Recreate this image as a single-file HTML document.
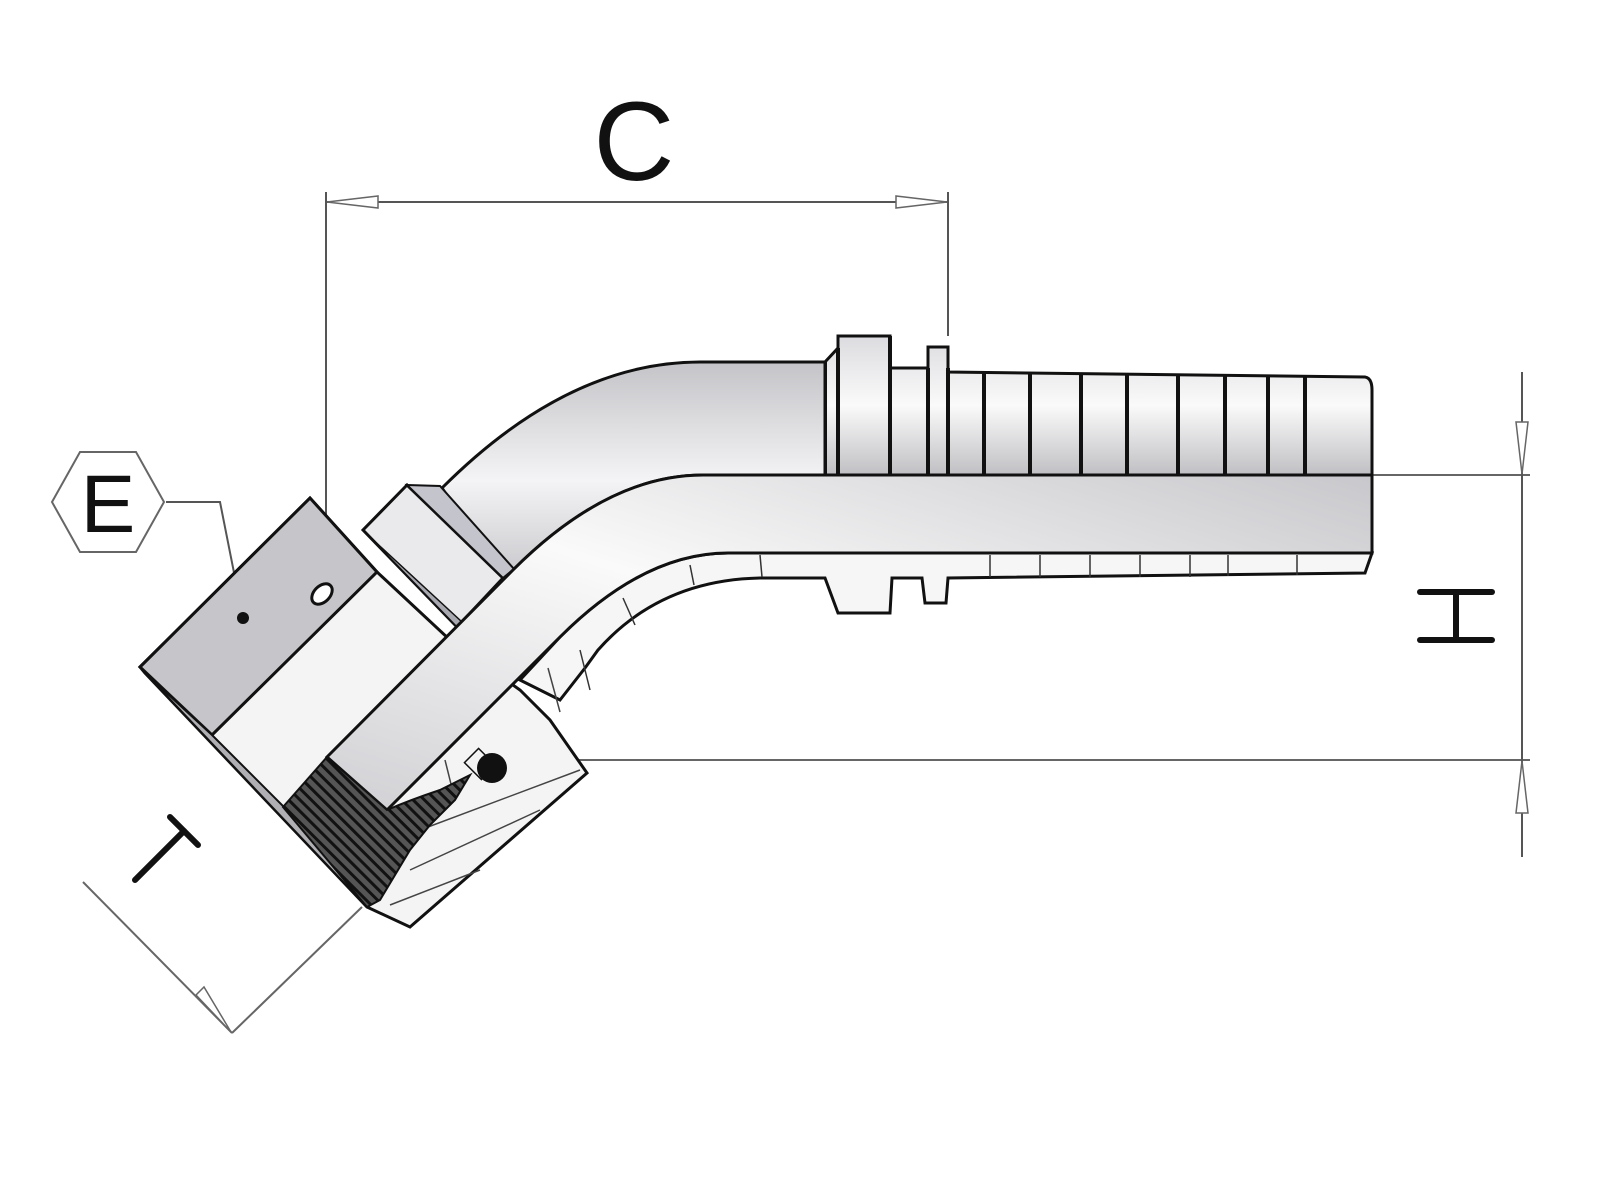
<!DOCTYPE html>
<html><head><meta charset="utf-8"><style>
html,body{margin:0;padding:0;background:#fff;}
svg{display:block}
text{font-family:"Liberation Sans",sans-serif;}
</style></head><body>
<svg width="1600" height="1200" viewBox="0 0 1600 1200" xmlns="http://www.w3.org/2000/svg">
<defs>
<linearGradient id="gv" x1="0" y1="0" x2="0" y2="1">
<stop offset="0" stop-color="#c4c4c8"/><stop offset="0.55" stop-color="#f4f4f6"/><stop offset="1" stop-color="#c8c8cc"/>
</linearGradient>
<linearGradient id="gt" x1="0" y1="0" x2="0" y2="1">
<stop offset="0" stop-color="#dcdce0"/><stop offset="0.5" stop-color="#fafafa"/><stop offset="1" stop-color="#c0c0c4"/>
</linearGradient>
<linearGradient id="gd" x1="0" y1="1" x2="1" y2="0">
<stop offset="0" stop-color="#d0d0d4"/><stop offset="0.5" stop-color="#fafafa"/><stop offset="1" stop-color="#c8c8cc"/>
</linearGradient>
<pattern id="th" width="8" height="8" patternUnits="userSpaceOnUse" patternTransform="rotate(45)">
<rect width="8" height="8" fill="#555"/><rect width="8" height="3" fill="#111"/>
</pattern>
</defs>

<!-- dimension C -->
<text x="634" y="180" font-size="112" text-anchor="middle" fill="#111">C</text>
<line x1="326" y1="202" x2="948" y2="202" stroke="#555" stroke-width="2"/>
<line x1="326" y1="192" x2="326" y2="760" stroke="#555" stroke-width="2"/>
<line x1="948" y1="192" x2="948" y2="336" stroke="#555" stroke-width="2"/>
<path d="M327,202 L378,196 L378,208 Z" fill="#fff" stroke="#666" stroke-width="1.5"/>
<path d="M947,202 L896,196 L896,208 Z" fill="#fff" stroke="#666" stroke-width="1.5"/>

<!-- H dimension -->
<line x1="1372" y1="475" x2="1530" y2="475" stroke="#666" stroke-width="2"/>
<line x1="326" y1="760" x2="1530" y2="760" stroke="#666" stroke-width="2"/>
<line x1="1522" y1="372" x2="1522" y2="857" stroke="#555" stroke-width="2"/>
<path d="M1522,474 L1516,422 L1528,422 Z" fill="#fff" stroke="#666" stroke-width="1.5"/>
<path d="M1522,761 L1516,813 L1528,813 Z" fill="#fff" stroke="#666" stroke-width="1.5"/>
<g stroke="#111" stroke-width="6" stroke-linecap="round">
<line x1="1420" y1="592" x2="1492" y2="592"/><line x1="1420" y1="640" x2="1492" y2="640"/><line x1="1456" y1="592" x2="1456" y2="640"/>
</g>

<!-- T dimension -->
<line x1="83" y1="882" x2="232" y2="1033" stroke="#666" stroke-width="2"/>
<line x1="232" y1="1033" x2="362" y2="907" stroke="#666" stroke-width="2"/>
<path d="M231,1032 L196,995 L204,987 Z" fill="#fff" stroke="#666" stroke-width="1.5"/>
<g stroke="#111" stroke-width="6" stroke-linecap="round">
<line x1="170" y1="817" x2="198" y2="845"/><line x1="184" y1="831" x2="135" y2="880"/>
</g>

<!-- E hexagon -->
<polygon points="52,502 80,452 136,452 164,502 136,552 80,552" fill="#fff" stroke="#666" stroke-width="2"/>
<text x="108" y="532" font-size="82" text-anchor="middle" fill="#111">E</text>
<polyline points="166,502 220,502 243,618" fill="none" stroke="#555" stroke-width="2"/>

<!-- lower sleeve -->
<path d="M560,637 Q644,553 728,553 L1372,553 L1365,573 L948,578 L946,603 L925,603 L922,578 L892,578 L890,613 L838,613 L825,578 L760,578 Q660,580 598,650 L585,668 L560,700 L520,680 Z" fill="#f6f6f6" stroke="#111" stroke-width="3"/>
<g stroke="#333" stroke-width="1.5">
<line x1="623" y1="598" x2="635" y2="625"/><line x1="690" y1="565" x2="694" y2="585"/><line x1="760" y1="555" x2="762" y2="577"/>
<line x1="990" y1="555" x2="990" y2="577"/><line x1="1040" y1="555" x2="1040" y2="577"/><line x1="1090" y1="555" x2="1090" y2="577"/>
<line x1="1140" y1="555" x2="1140" y2="577"/><line x1="1190" y1="555" x2="1190" y2="577"/><line x1="1228" y1="555" x2="1228" y2="576"/><line x1="1297" y1="555" x2="1297" y2="575"/>
<line x1="580" y1="650" x2="590" y2="690"/>
</g>

<!-- nut body -->
<polygon points="140,667 310,498 377,572 450,640 520,690 550,720 587,773 410,927 367,907 145,673" fill="#f4f4f4" stroke="#111" stroke-width="3"/>
<polygon points="140,667 310,498 377,572 212,735" fill="#c6c6ca" stroke="#111" stroke-width="3"/>
<polygon points="145,673 212,735 285,808 367,907" fill="#b0b0b4" stroke="#111" stroke-width="2"/>
<ellipse cx="322" cy="594" rx="12" ry="8" transform="rotate(-45 322 594)" fill="#fff" stroke="#111" stroke-width="3"/>
<circle cx="243" cy="618" r="6" fill="#111"/>
<g stroke="#444" stroke-width="1.5">
<line x1="420" y1="830" x2="580" y2="770"/><line x1="410" y1="870" x2="540" y2="810"/><line x1="390" y1="905" x2="480" y2="870"/>
<line x1="445" y1="760" x2="455" y2="800"/><line x1="548" y1="668" x2="560" y2="712"/>
</g>

<!-- washer -->
<polygon points="407,485 363,530 457,627 503,578" fill="#eaeaec" stroke="#111" stroke-width="3"/>
<polygon points="363,530 370,537 462,622 457,627" fill="#a8a8b0" stroke="#111" stroke-width="1.5"/>

<!-- upper elbow body -->
<path d="M442,488 Q568,362 700,362 L835,362 L835,475 L703,475 Q608,475 513,570 L503,578 Z" fill="url(#gv)" stroke="#111" stroke-width="3"/>
<polygon points="407,485 440,486 514,569 503,578" fill="#c4c4cc" stroke="#111" stroke-width="2"/>

<!-- tube -->
<path d="M327,757 L513,570 Q608,475 703,475 L1372,475 L1372,553 L728,553 Q644,553 560,637 L387,810 Z" fill="url(#gd)" stroke="#111" stroke-width="3"/>

<!-- hose tail upper -->
<path d="M825,362 L838,348 L838,336 L890,336 L890,368 L928,368 L928,347 L948,347 L948,372 L1365,377 Q1372,378 1372,390 L1372,475 L825,475 Z" fill="url(#gt)" stroke="#111" stroke-width="3"/>
<g stroke="#111" stroke-width="4">
<line x1="838" y1="348" x2="838" y2="475"/><line x1="890" y1="336" x2="890" y2="475"/>
<line x1="928" y1="368" x2="928" y2="475"/><line x1="948" y1="368" x2="948" y2="475"/>
<line x1="984" y1="373" x2="984" y2="475"/><line x1="1030" y1="373" x2="1030" y2="475"/>
<line x1="1081" y1="374" x2="1081" y2="475"/><line x1="1127" y1="374" x2="1127" y2="475"/>
<line x1="1178" y1="375" x2="1178" y2="475"/><line x1="1225" y1="375" x2="1225" y2="475"/>
<line x1="1268" y1="376" x2="1268" y2="475"/><line x1="1305" y1="376" x2="1305" y2="475"/>
</g>
<line x1="826" y1="362" x2="826" y2="475" stroke="#111" stroke-width="2"/>

<!-- thread -->
<path d="M283,807 L327,757 L387,810 Q410,800 440,790 L470,775 L455,800 L430,825 L410,850 L395,875 L380,900 L367,907 Z" fill="url(#th)" stroke="#111" stroke-width="2"/>
<circle cx="492" cy="768" r="15" fill="#111"/>
<rect x="470" y="752" width="20" height="24" fill="none" stroke="#111" stroke-width="1.5" transform="rotate(-45 480 764)"/>
</svg>
</body></html>
